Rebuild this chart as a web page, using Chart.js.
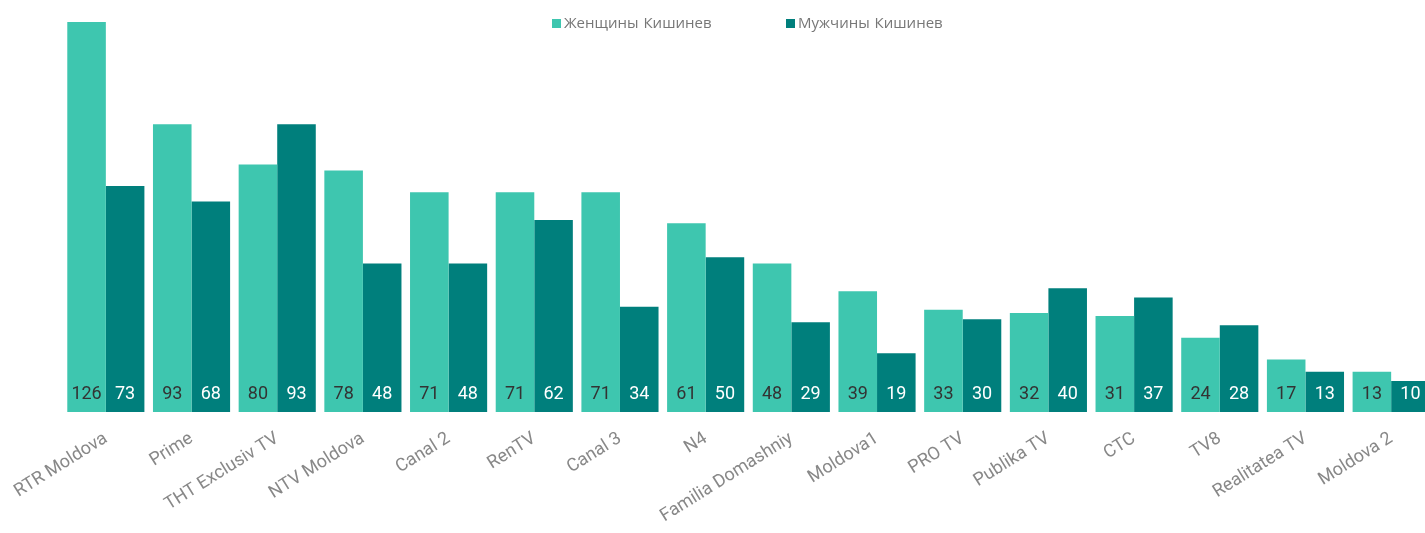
<!DOCTYPE html>
<html>
<head>
<meta charset="utf-8">
<script src="https://cdn.jsdelivr.net/npm/chart.js@4.4.0/dist/chart.umd.min.js"></script>
<style>
  html, body { margin: 0; padding: 0; background: #fff; overflow: hidden; }
  #wrap { position: relative; width: 1434px; height: 533px; }
  #legend { position: absolute; top: 12px; left: 552px; font-family: "Open Sans", sans-serif; font-size: 15px; color: #777; }
  #legend span.item { position: absolute; white-space: nowrap; word-spacing: 1px; }
  #legend i { display: inline-block; width: 9px; height: 9px; margin-right: 3px; vertical-align: 0px; }
</style>
</head>
<body>
<div id="wrap">
  <canvas id="graphCanvas" width="1434" height="533"></canvas>
  <div id="legend"></div>
</div>
<script>
const channels = ["RTR Moldova", "Prime", "THT Exclusiv TV", "NTV Moldova", "Canal 2", "RenTV", "Canal 3", "N4",
    "Familia Domashniy", "Moldova1", "PRO TV", "Publika TV", "CTC", "TV8", "Realitatea TV", "Moldova 2"];
const women = [126, 93, 80, 78, 71, 71, 71, 61, 48, 39, 33, 32, 31, 24, 17, 13];
const men = [73, 68, 93, 48, 48, 62, 34, 50, 29, 19, 30, 40, 37, 28, 13, 10];
const seriesNames = ["Женщины Кишинев", "Мужчины Кишинев"];
const seriesColors = ["#3ec6af", "#007f7c"];
const labelColors = ["#333333", "#ffffff"];

const graphCanvas = document.getElementById("graphCanvas");
const ctx = graphCanvas.getContext("2d");

// values written at the bottom of each bar
const barLabels = {
    id: "barLabels",
    afterDatasetsDraw(chart) {
        let c = chart.ctx;
        c.save();
        c.font = "18px Roboto";
        c.textAlign = "center";
        c.textBaseline = "middle";
        chart.data.datasets.forEach((ds, i) => {
            let meta = chart.getDatasetMeta(i);
            meta.data.forEach((bar, j) => {
                c.fillStyle = labelColors[i];
                c.fillText(String(ds.data[j]), bar.x, chart.chartArea.bottom - 18);
            });
        });
        c.restore();
    }
};

let chart = new Chart(ctx, {
    type: "bar",
    data: {
        labels: channels,
        datasets: [
            { label: seriesNames[0], data: women, backgroundColor: seriesColors[0] },
            { label: seriesNames[1], data: men, backgroundColor: seriesColors[1] },
        ],
    },
    options: {
        responsive: false,
        animation: false,
        layout: { padding: { top: 22, left: 63, right: 0, bottom: 0 } },
        datasets: { bar: { categoryPercentage: 0.9, barPercentage: 1.0 } },
        plugins: { legend: { display: false }, tooltip: { enabled: false } },
        scales: {
            x: {
                grid: { display: false },
                border: { display: false },
                ticks: {
                    color: "#888",
                    font: { family: "Roboto", size: 18 },
                    minRotation: 32,
                    maxRotation: 32,
                    padding: 8,
                    autoSkip: false,
                },
                afterFit: (s) => { s.height = 121; },
            },
            y: {
                display: false,
                min: 0,
                max: 126,
            },
        },
    },
    plugins: [barLabels],
});

// legend as html text
let legend = document.getElementById("legend");
let offsets = [0, 234];
seriesNames.forEach((name, i) => {
    let item = document.createElement("span");
    item.className = "item";
    item.style.left = offsets[i] + "px";
    item.innerHTML = `<i style="background:${seriesColors[i]}"></i>${name}`;
    legend.appendChild(item);
});
</script>
</body>
</html>
